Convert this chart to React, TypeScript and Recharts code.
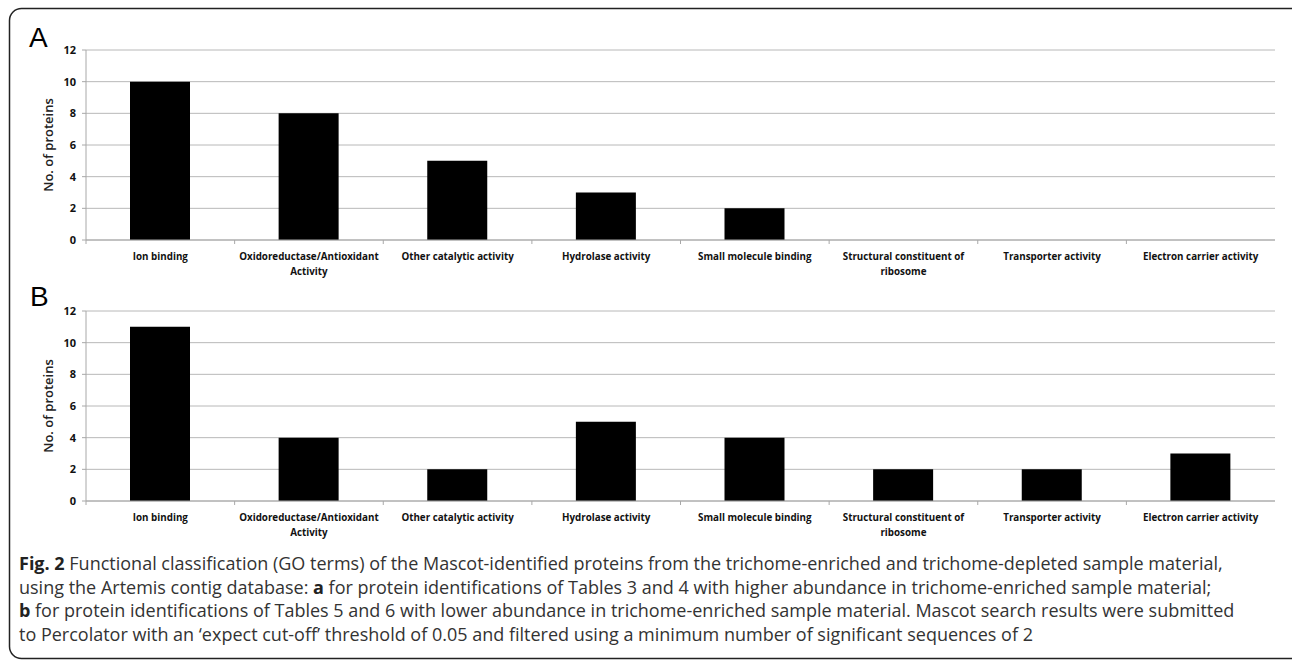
import React from 'react';
import { BarChart, Bar, XAxis, YAxis, CartesianGrid } from 'recharts';

// GO term categories (\n marks where the label wraps)
const categories = [
  'Ion binding',
  'Oxidoreductase/Antioxidant\nActivity',
  'Other catalytic activity',
  'Hydrolase activity',
  'Small molecule binding',
  'Structural constituent of\nribosome',
  'Transporter activity',
  'Electron carrier activity',
];

// panel A: higher abundance in trichome-enriched material
const countsA = [10, 8, 5, 3, 2, 0, 0, 0];
// panel B: lower abundance in trichome-enriched material
const countsB = [11, 4, 2, 5, 4, 2, 2, 3];

const yTicks = [0, 2, 4, 6, 8, 10, 12];

const CHART_W = 1292;
const CHART_H = 290;
const PLOT_LEFT = 86;
const PLOT_RIGHT = 1275;
const BAND = (PLOT_RIGHT - PLOT_LEFT) / categories.length;
const AXIS_GREY = '#a8a8a8';

const CatTick = (props: any) => {
  const { x, y, payload } = props;
  const lines = String(payload.value).split('\n');
  const bx = x - BAND / 2;
  return (
    <g>
      <line x1={bx} x2={bx} y1={y} y2={y + 4} stroke={AXIS_GREY} />
      <text
        x={x}
        y={y + 20}
        textAnchor="middle"
        fontFamily="'Open Sans', sans-serif"
        fontWeight={700}
        fontSize={9.8}
        fill="#111"
      >
        {lines.map((l, i) => (
          <tspan key={i} x={x} dy={i === 0 ? 0 : 15}>
            {l}
          </tspan>
        ))}
      </text>
    </g>
  );
};

const YLabel = (props: any) => {
  const { viewBox } = props;
  const cx = viewBox.x + 2;
  const cy = viewBox.y + viewBox.height / 2;
  return (
    <text
      x={cx}
      y={cy}
      transform={`rotate(-90 ${cx} ${cy})`}
      textAnchor="middle"
      dominantBaseline="central"
      fontFamily="'Open Sans', sans-serif"
      fontWeight={600}
      fontSize={13}
      fill="#222"
    >
      No. of proteins
    </text>
  );
};

function Panel({ values }: { values: number[] }) {
  const data = categories.map((name, i) => ({ name, count: values[i] }));
  return (
    <BarChart
      width={CHART_W}
      height={CHART_H}
      data={data}
      margin={{ top: 50, right: CHART_W - PLOT_RIGHT, left: PLOT_LEFT - 40, bottom: 0 }}
      barCategoryGap={0}
    >
      <CartesianGrid vertical={false} stroke="#b8b8b8" />
      <XAxis
        dataKey="name"
        height={50}
        interval={0}
        tickSize={0}
        tickMargin={0}
        tickLine={false}
        axisLine={{ stroke: AXIS_GREY }}
        tick={<CatTick />}
      />
      <YAxis
        width={40}
        domain={[0, 12]}
        ticks={yTicks}
        interval={0}
        tickSize={4}
        tickMargin={6}
        axisLine={{ stroke: AXIS_GREY }}
        tickLine={{ stroke: AXIS_GREY }}
        tick={{ fontFamily: "'Open Sans', sans-serif", fontWeight: 700, fontSize: 11, fill: '#111' }}
        label={YLabel}
      />
      <Bar dataKey="count" fill="#000" barSize={60} isAnimationActive={false} />
    </BarChart>
  );
}

export default function App() {
  return (
    <div
      style={{
        position: 'absolute',
        left: 0,
        top: 0,
        width: 1292,
        height: 662,
        background: '#fff',
        overflow: 'hidden',
      }}
    >
      <div style={{ position: 'absolute', left: 0, top: 0 }}>
        <Panel values={countsA} />
      </div>
      <div style={{ position: 'absolute', left: 0, top: 261 }}>
        <Panel values={countsB} />
      </div>
      <svg
        width={1292}
        height={662}
        style={{ position: 'absolute', left: 0, top: 0, pointerEvents: 'none' }}
      >
        <rect x={9.5} y={8.5} width={1300} height={650} rx={12} fill="none" stroke="#222" strokeWidth={1.5} />
        <text x={29} y={47} fontFamily="'Liberation Sans', Arial, sans-serif" fontSize={28} fill="#000">
          A
        </text>
        <text x={30} y={306} fontFamily="'Liberation Sans', Arial, sans-serif" fontSize={28} fill="#000">
          B
        </text>
      </svg>
      <div
        style={{
          position: 'absolute',
          left: 19,
          top: 552,
          fontFamily: "'Open Sans', sans-serif",
          fontSize: 18,
          lineHeight: '23.5px',
          color: '#333',
          whiteSpace: 'nowrap',
        }}
      >
        <b style={{ color: '#222' }}>Fig. 2</b> Functional classification (GO terms) of the Mascot-identified proteins from the trichome-enriched and trichome-depleted sample material,
        <br />
        using the Artemis contig database: <b style={{ color: '#222' }}>a</b> for protein identifications of Tables 3 and 4 with higher abundance in trichome-enriched sample material;
        <br />
        <b style={{ color: '#222' }}>b</b> for protein identifications of Tables 5 and 6 with lower abundance in trichome-enriched sample material. Mascot search results were submitted
        <br />
        to Percolator with an ‘expect cut-off’ threshold of 0.05 and filtered using a minimum number of significant sequences of 2
      </div>
    </div>
  );
}
